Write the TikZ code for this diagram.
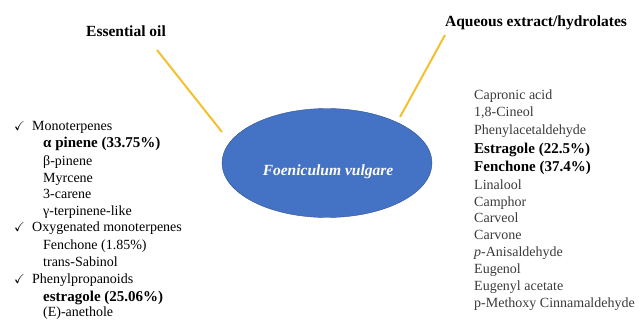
\documentclass[tikz,border=0pt]{standalone}
\usepackage{amssymb}
\usepackage{fontspec}
\setmainfont{Liberation Serif}
\usetikzlibrary{shapes,positioning}

\definecolor{FVblue}{HTML}{4472C4}
\definecolor{FVedge}{HTML}{2F528F}
\definecolor{StemGold}{HTML}{F2C12E}
\definecolor{ItemGray}{HTML}{3A3A3A}

\begin{document}
\begin{tikzpicture}[x=1pt,y=-1pt]
				\tikzstyle{Plant}	= [ellipse, draw=FVedge, fill=FVblue, minimum width=210pt, minimum height=109pt, inner sep=0pt]
				\tikzstyle{PlantName}	= [text=white, inner sep=0pt, font=\fontsize{15.5}{18}\selectfont\bfseries\itshape]
				\tikzstyle{Title}	= [inner sep=0pt, font=\fontsize{15.5}{18}\selectfont\bfseries]
				\tikzstyle{Item}	= [anchor=west, inner sep=0pt, text height=10pt, text depth=3pt, font=\fontsize{14}{17}\selectfont]
				\tikzstyle{Main}	= [Item, font=\fontsize{15}{18}\selectfont\bfseries]
				\tikzstyle{Gray}	= [text=ItemGray]
				\tikzstyle{Tick}	= [anchor=west, inner sep=0pt, font=\fontsize{13}{15}\selectfont]
				\tikzstyle{Stem}	= [StemGold, line width=2pt]

				\useasboundingbox (0,0) rectangle (639,320);

				% plant in the middle
				\node (fv) at (327,163) [Plant] {};
				\node (fvname) at (328,172) [PlantName] {Foeniculum vulgare};

				% the two headings and their stems
				\node (eo) at (126,31) [Title] {Essential oil};
				\node (aq) at (536,23) [Title] {Aqueous extract/hydrolates};
				\coordinate (eo-top) at (157,50);
				\coordinate (eo-end) at (222,132);
				\coordinate (aq-top) at (445,35);
				\coordinate (aq-end) at (400,117);
				\draw [Stem] (eo-top) to (eo-end);
				\draw [Stem] (aq-top) to (aq-end);

				% essential oil
				\node (t0) at (14,126) [Tick] {\checkmark};
				\node (e0) at (32,127) [Item] {Monoterpenes};
				\node (e1) at (43,144) [Main] {α pinene (33.75\%)};
				\node (e2) at (43,162) [Item] {β-pinene};
				\node (e3) at (43,179) [Item] {Myrcene};
				\node (e4) at (43,195) [Item] {3-carene};
				\node (e5) at (43,212) [Item] {γ-terpinene-like};
				\node (t1) at (14,227) [Tick] {\checkmark};
				\node (e6) at (32,228) [Item] {Oxygenated monoterpenes};
				\node (e7) at (43,246) [Item] {Fenchone (1.85\%)};
				\node (e8) at (43,263) [Item] {trans-Sabinol};
				\node (t2) at (14,279) [Tick] {\checkmark};
				\node (e9) at (32,280) [Item] {Phenylpropanoids};
				\node (e10) at (43,298) [Main] {estragole (25.06\%)};
				\node (e11) at (43,313) [Item] {(E)-anethole};

				% aqueous extract
				\node (a0) at (474,96) [Item][Gray] {Capronic acid};
				\node (a1) at (474,113) [Item][Gray] {1,8-Cineol};
				\node (a2) at (474,131) [Item][Gray] {Phenylacetaldehyde};
				\node (a3) at (474,150) [Main] {Estragole (22.5\%)};
				\node (a4) at (474,168) [Main] {Fenchone (37.4\%)};
				\node (a5) at (474,186) [Item][Gray] {Linalool};
				\node (a6) at (474,203) [Item][Gray] {Camphor};
				\node (a7) at (474,219) [Item][Gray] {Carveol};
				\node (a8) at (474,236) [Item][Gray] {Carvone};
				\node (a9) at (474,253) [Item][Gray] {\textit{p}-Anisaldehyde};
				\node (a10) at (474,270) [Item][Gray] {Eugenol};
				\node (a11) at (474,287) [Item][Gray] {Eugenyl acetate};
				\node (a12) at (474,304) [Item][Gray] {p-Methoxy Cinnamaldehyde};
\end{tikzpicture}
\end{document}
